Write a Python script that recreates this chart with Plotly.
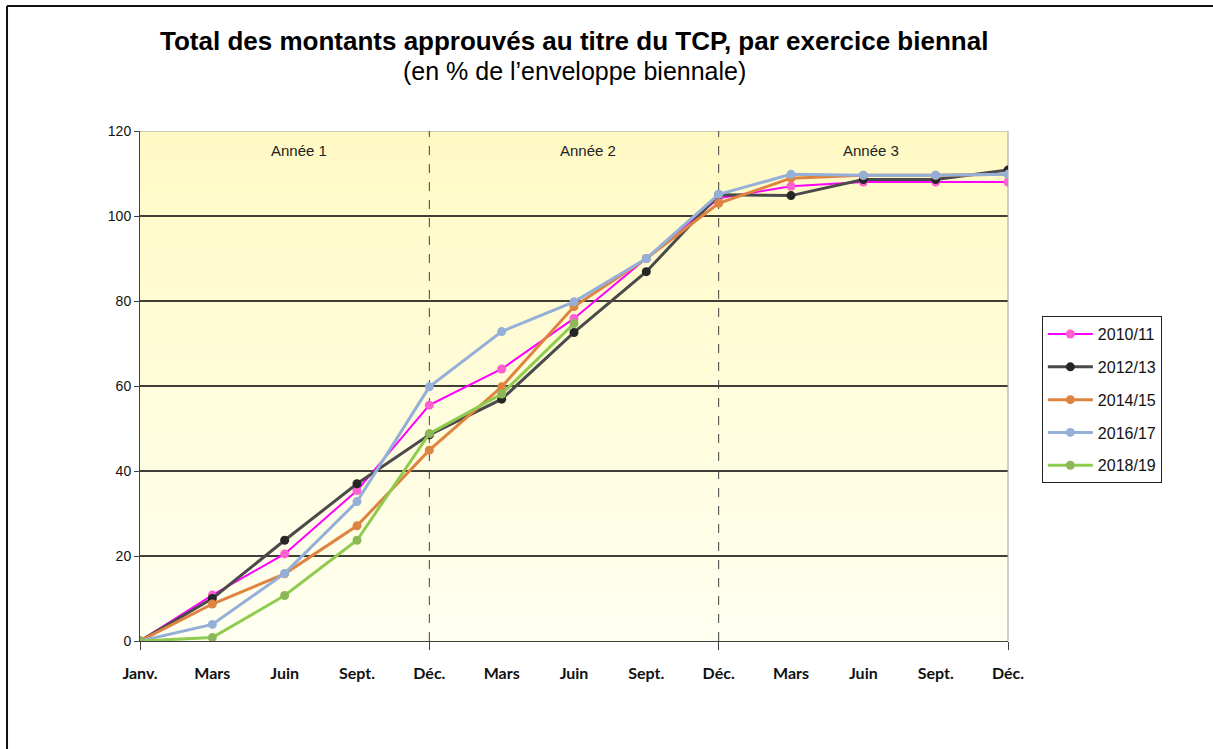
import plotly.graph_objects as go

# ---- data ----
months = ["Janv.", "Mars", "Juin", "Sept.", "Déc.", "Mars", "Juin", "Sept.", "Déc.", "Mars", "Juin", "Sept.", "Déc."]
s2010_11 = [0, 10.8, 20.5, 35.4, 55.5, 64.0, 75.9, 90.0, 104.2, 107.0, 108.0, 108.0, 108.0]
s2012_13 = [0, 10.0, 23.7, 37.0, 48.5, 56.9, 72.6, 86.9, 105.0, 104.8, 108.6, 108.6, 110.8]
s2014_15 = [0, 8.7, 15.8, 27.1, 44.9, 59.8, 78.7, 90.0, 103.0, 108.9, 109.6, 109.6, 109.8]
s2016_17 = [0, 3.9, 15.9, 32.8, 59.8, 72.8, 79.8, 90.0, 105.1, 109.8, 109.6, 109.6, 109.8]
s2018_19 = [0, 0.8, 10.7, 23.7, 48.8, 58.1, 74.7]
series_names = ["2010/11", "2012/13", "2014/15", "2016/17", "2018/19"]
year_labels = ["Année 1", "Année 2", "Année 3"]
year_label_pos = [2.2, 6.2, 10.1]
year_bounds = [4, 8]
y_ticks = [0, 20, 40, 60, 80, 100, 120]

series = [s2010_11, s2012_13, s2014_15, s2016_17, s2018_19]
line_colors = ["#FF00FF", "#4A4A4A", "#DE8441", "#95B0D8", "#8FCB4E"]
marker_colors = ["#FF5FD2", "#262626", "#DE8441", "#95B0D8", "#8DB85A"]
line_widths = [2, 3, 3, 3, 3]

x_idx = list(range(len(months)))

fig = go.Figure()
for i, (name, vals) in enumerate(zip(series_names, series)):
    fig.add_trace(go.Scatter(
        x=x_idx[:len(vals)], y=vals, name=name, mode="lines+markers",
        line=dict(color=line_colors[i], width=line_widths[i]),
        marker=dict(color=marker_colors[i], size=9),
        legendgroup=name,
    ))

shapes = []
# gradient background
n = 40
top = (255, 250, 196)
bot = (255, 255, 240)
for k in range(n):
    t = k / (n - 1)
    c = tuple(round(top[j] + (bot[j] - top[j]) * t) for j in range(3))
    y1 = 1 - k / n
    y0 = 1 - (k + 1) / n
    shapes.append(dict(type="rect", xref="x domain", yref="y domain", x0=0, x1=1,
                       y0=y0, y1=y1, fillcolor="rgb(%d,%d,%d)" % c, line=dict(width=0),
                       layer="below"))
# horizontal gridlines (top one is the light plot border)
for v in y_ticks[1:]:
    col = "#A0A0A0" if v == max(y_ticks) else "#000000"
    shapes.append(dict(type="line", xref="x domain", yref="y", x0=0, x1=1, y0=v, y1=v,
                       line=dict(color=col, width=1.3 if v != max(y_ticks) else 1), layer="below"))
# right border
shapes.append(dict(type="line", xref="x domain", yref="y domain", x0=1, x1=1, y0=0, y1=1,
                   line=dict(color="#A0A0A0", width=1), layer="below"))
# year separators
for b in year_bounds:
    shapes.append(dict(type="line", xref="x", yref="y domain", x0=b, x1=b, y0=0, y1=1,
                       line=dict(color="#404040", width=1, dash="dash"), layer="below"))
# outer frame
shapes.append(dict(type="line", xref="paper", yref="paper", x0=-0.1532, x1=-0.1532, y0=-0.25, y1=1.245,
                   line=dict(color="#111111", width=2)))
shapes.append(dict(type="line", xref="paper", yref="paper", x0=-0.1532, x1=1.3, y0=1.245, y1=1.245,
                   line=dict(color="#111111", width=2)))

annotations = []
for lab, pos in zip(year_labels, year_label_pos):
    annotations.append(dict(x=pos, y=115.5, xref="x", yref="y", text=lab, showarrow=False,
                            font=dict(family="Arial, Liberation Sans", size=15, color="#222222")))
annotations.append(dict(x=0.5, y=1.21, xref="paper", yref="paper", showarrow=False,
                        text="<b>Total des montants approuvés au titre du TCP, par exercice biennal</b>",
                        font=dict(family="Liberation Sans Narrow, Arial Narrow, Liberation Sans", size=26, color="#000000")))
annotations.append(dict(x=0.5, y=1.15, xref="paper", yref="paper", showarrow=False,
                        text="(en % de l’enveloppe biennale)",
                        font=dict(family="Liberation Sans Narrow, Arial Narrow, Liberation Sans", size=25, color="#000000")))

fig.update_layout(
    width=1213, height=749,
    margin=dict(l=140, r=205, t=131, b=108),
    paper_bgcolor="white", plot_bgcolor="#FFFDE0",
    shapes=shapes, annotations=annotations,
    showlegend=True,
    legend=dict(x=1.039, y=0.637, xanchor="left", yanchor="top",
                bordercolor="#222222", borderwidth=1, bgcolor="white",
                font=dict(family="Arial, Liberation Sans", size=16, color="#111111"),
                tracegroupgap=9, traceorder="grouped", itemwidth=45),
    xaxis=dict(range=[0, 12], tickmode="array", tickvals=x_idx, ticktext=months,
               ticks="", showgrid=False, zeroline=False,
               showline=True, linecolor="#404040", linewidth=1,
               tickfont=dict(family="Lato, Liberation Sans", size=16, color="#111111", weight="bold"),
               ticklabelstandoff=18,
               minor=dict(tickmode="array", tickvals=[0, 4, 8, 12], ticks="outside", ticklen=8,
                          tickcolor="#404040", showgrid=False)),
    yaxis=dict(range=[0, 120], tickmode="array", tickvals=y_ticks,
               showgrid=False, zeroline=False,
               showline=True, linecolor="#404040", linewidth=1,
               ticks="outside", ticklen=5, tickcolor="#404040",
               tickfont=dict(family="Arial, Liberation Sans", size=14, color="#111111")),
)

fig.write_html("out.html", config={"displayModeBar": False},
               post_script="document.body.style.margin='0';")
